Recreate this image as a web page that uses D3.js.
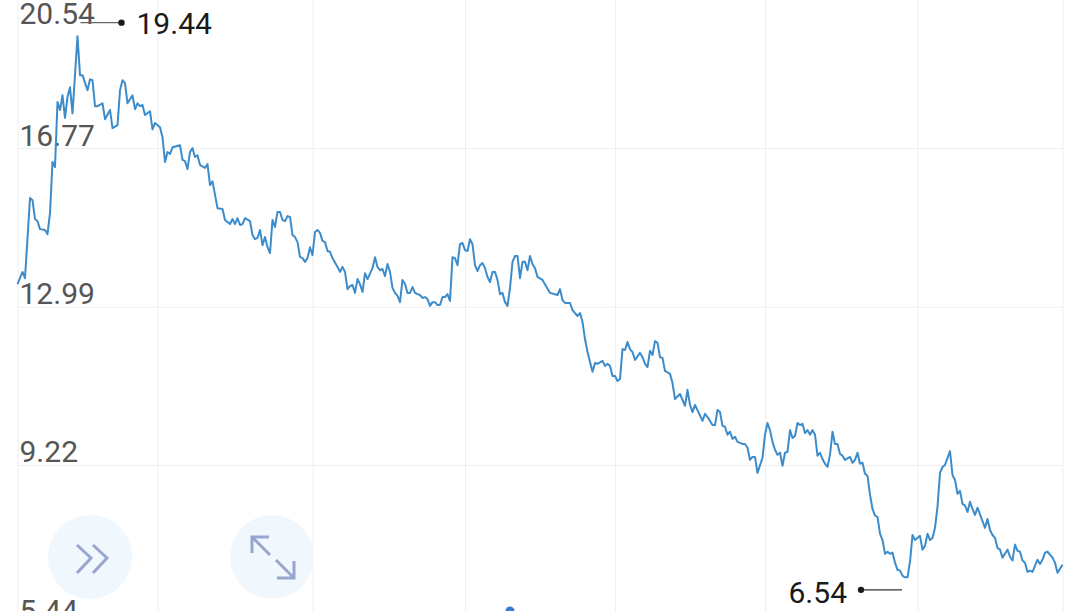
<!DOCTYPE html>
<html>
<head>
<meta charset="utf-8">
<style>
html,body{margin:0;padding:0;background:#fff;overflow:hidden}
svg{display:block}
text{font-family:Roboto,sans-serif}
</style>
<script src="https://cdn.jsdelivr.net/npm/d3@7/dist/d3.min.js"></script>
</head>
<body>
<svg id="chart" width="1080" height="611"></svg>
<script>
const yTicks = [20.54, 16.77, 12.99, 9.22, 5.44];
const gridSessions = [0, 56, 118, 179, 239, 299, 360, 418];
const highValue = 19.44;
const lowValue = 6.54;

const sessions = [
0,2,3,5,6,7,8,9,11,12,13,14,15,16,17,18,19,20,21,22,
24,25,26,28,29,30,31,32,34,35,37,38,40,41,42,43,44,46,47,48,
49,50,51,53,54,55,57,58,59,60,61,62,65,66,67,68,69,70,71,72,
73,75,76,77,78,80,82,83,85,86,87,88,89,90,91,93,94,95,96,97,
98,99,100,101,102,103,104,105,106,107,108,109,110,111,112,113,114,115,116,117,
118,119,120,121,122,123,124,125,126,128,129,130,131,132,133,134,135,136,137,138,
139,140,142,143,144,145,146,147,148,149,150,151,152,153,154,155,156,157,158,159,
160,161,162,163,164,165,166,167,168,169,170,171,172,173,174,175,176,177,178,179,
180,181,182,183,184,185,186,187,188,189,190,191,192,193,194,195,196,197,198,199,
200,201,202,203,204,205,206,207,208,210,213,216,217,218,219,221,222,224,225,226,
227,228,230,231,232,234,235,236,237,238,239,240,241,242,243,244,245,246,247,249,
250,251,252,253,254,255,256,257,258,259,261,262,263,265,267,268,269,270,271,274,
275,276,278,279,280,281,282,283,284,285,286,287,288,290,291,292,293,294,295,296,
298,299,300,301,302,303,304,305,306,307,308,309,310,311,312,313,314,315,316,317,
318,319,320,321,322,323,324,325,326,327,328,329,330,331,333,334,335,336,337,338,
339,340,341,342,343,344,345,346,347,348,349,350,351,352,353,354,355,356,357,358,
359,361,362,363,364,365,366,367,368,369,370,371,373,374,375,376,377,378,379,380,
381,382,383,384,387,388,389,390,391,392,393,394,396,397,398,399,400,401,402,403,
404,405,406,408,409,410,411,412,414,415,416,418
];

const prices = [
13.53,13.82,13.67,15.58,15.53,15.08,15.03,14.84,14.82,14.72,15.22,16.44,16.32,17.87,17.68,18.03,17.49,17.99,18.22,17.60,
19.44,18.51,18.51,18.15,18.41,18.39,17.77,17.77,17.84,17.46,17.68,17.25,17.32,18.15,18.39,18.32,17.84,18.03,17.70,17.84,
17.77,17.80,17.56,17.65,17.22,17.37,17.27,17.03,16.44,16.68,16.63,16.79,16.84,16.49,16.46,16.27,16.68,16.77,16.56,16.60,
16.37,16.30,16.39,15.89,15.98,15.34,15.32,15.06,14.96,15.08,14.96,15.10,14.94,14.96,15.10,15.03,14.70,14.60,14.63,14.82,
14.46,14.65,14.41,14.27,15.06,14.89,15.25,15.25,15.06,15.03,15.15,15.13,14.70,14.65,14.53,14.18,14.15,14.06,14.15,14.41,
14.22,14.77,14.82,14.75,14.56,14.53,14.32,14.30,14.15,13.94,13.82,13.94,13.82,13.41,13.48,13.51,13.32,13.65,13.53,13.34,
13.79,13.65,13.91,14.17,13.94,13.86,13.89,13.72,14.01,13.82,13.44,13.32,13.25,13.10,13.63,13.53,13.32,13.32,13.46,13.32,
13.29,13.27,13.20,13.22,13.17,13.01,13.10,13.10,13.03,13.03,13.22,13.22,13.29,13.13,14.17,14.15,13.98,14.48,14.51,14.34,
14.32,14.60,14.48,13.98,13.84,13.98,14.03,13.91,13.70,13.58,13.82,13.82,13.63,13.29,13.32,13.10,13.01,13.44,14.06,14.20,
14.20,13.67,14.06,14.06,13.86,14.20,14.01,13.91,13.70,13.63,13.32,13.27,13.41,13.15,13.08,13.08,12.91,12.77,12.84,12.63,
12.22,11.91,11.44,11.65,11.63,11.70,11.58,11.63,11.58,11.34,11.34,11.22,11.27,11.98,11.96,12.15,11.98,11.91,11.72,11.89,
11.79,11.63,11.55,11.94,11.84,12.17,12.13,11.79,11.77,11.46,11.39,11.17,10.79,10.91,10.63,11.01,10.65,10.48,10.65,10.27,
10.44,10.36,10.17,10.17,10.53,10.48,10.15,10.13,9.94,10.01,9.84,9.89,9.77,9.72,9.72,9.63,9.34,9.41,9.41,9.03,
9.39,9.94,10.22,10.05,9.77,9.58,9.46,9.51,9.20,9.51,9.53,10.05,9.86,9.91,10.22,10.17,10.20,9.98,10.05,9.94,
10.05,9.94,9.44,9.51,9.36,9.25,9.17,9.46,10.01,9.72,9.72,9.48,9.44,9.34,9.41,9.27,9.34,9.51,9.25,9.27,
9.01,8.96,8.51,8.17,8.01,7.98,7.58,7.43,7.10,7.15,7.10,7.13,6.89,6.72,6.70,6.58,6.54,6.54,6.91,7.55,
7.43,7.53,7.20,7.29,7.58,7.43,7.48,7.72,8.22,9.03,9.17,9.22,9.55,8.98,8.86,8.53,8.60,8.29,8.25,8.10,
8.34,8.17,8.03,8.20,7.72,7.93,7.67,7.55,7.48,7.24,7.20,7.01,7.20,7.03,6.94,7.32,7.17,7.15,6.94,6.89,
6.67,6.70,6.67,6.96,6.86,6.96,7.13,7.15,7.01,6.89,6.65,6.84
];

const series = sessions.map((s, i) => ({ s, p: prices[i] }));

const x = d3.scaleLinear().domain([0, 418]).range([17.5, 1062.5]);
const y = d3.scaleLinear().domain([5.44, 20.54]).range([623.5, -10]);

const svg = d3.select("#chart");

// vertical grid
const gx = svg.append("g")
  .call(d3.axisBottom(x).tickValues(gridSessions).tickSize(611).tickFormat(""));
gx.select(".domain").remove();
gx.selectAll("line").attr("stroke", "#eceef2").attr("stroke-width", 1);

// horizontal grid with labels
const gy = svg.append("g").attr("transform", "translate(17.5,0)")
  .call(d3.axisRight(y).tickValues(yTicks).tickSize(1045).tickFormat(d3.format(".2f")));
gy.select(".domain").remove();
gy.selectAll("line").attr("stroke", "#eceef2").attr("stroke-width", 1);
gy.selectAll("text")
  .attr("x", 2).attr("y", 0)
  // the top label is pinned inside the plot rather than above its off-screen gridline
  .attr("dy", d => d === yTicks[0] ? 33 : -3)
  .attr("text-anchor", "start")
  .attr("fill", "#555").attr("font-size", 30)
  .style("font-family", "Roboto, sans-serif");

// price line
svg.append("path").datum(series)
  .attr("fill", "none").attr("stroke", "#3c8ccb").attr("stroke-width", 2)
  .attr("stroke-linejoin", "round")
  .attr("d", d3.line().x(d => x(d.s)).y(d => y(d.p)));

// high / low callouts
const hi = series.find(d => d.p === highValue);
const lo = series.find(d => d.p === lowValue);
const hiY = y(highValue) - 13.5, loY = y(lowValue) + 12.5;
const hiX = x(hi.s);
const loX = x(lo.s);

svg.append("line").attr("x1", hiX + 3).attr("x2", hiX + 44).attr("y1", hiY).attr("y2", hiY)
  .attr("stroke", "#666").attr("stroke-width", 1.2);
svg.append("circle").attr("cx", hiX + 44).attr("cy", hiY).attr("r", 3.2).attr("fill", "#1a1a1a");
svg.append("text").attr("x", hiX + 59).attr("y", hiY + 11).attr("font-size", 30).attr("fill", "#1a1a1a").text(highValue.toFixed(2));

svg.append("line").attr("x1", loX - 44).attr("x2", loX - 3).attr("y1", loY).attr("y2", loY)
  .attr("stroke", "#333").attr("stroke-width", 1.2);
svg.append("circle").attr("cx", loX - 44).attr("cy", loY).attr("r", 3.2).attr("fill", "#1a1a1a");
svg.append("text").attr("x", loX - 58).attr("y", loY + 13).attr("text-anchor", "end").attr("font-size", 30).attr("fill", "#1a1a1a").text(lowValue.toFixed(2));

// overlay buttons
svg.append("circle").attr("cx", 90).attr("cy", 557).attr("r", 42).attr("fill", "#f0f7fd");
svg.append("circle").attr("cx", 272).attr("cy", 557).attr("r", 42).attr("fill", "#f0f7fd");
const icon = svg.append("g").attr("fill", "none").attr("stroke", "#98a5cf").attr("stroke-width", 3);
icon.append("path").attr("d", "M77,545L91,558L77,573M93,545L107,558L93,573");
icon.append("path").attr("d", "M252,553V537H269M252,537L270,555M277,578H294V561M276,560L294,578");

// cursor marker peeking at the bottom edge
svg.append("circle").attr("cx", 510).attr("cy", 611).attr("r", 4.5).attr("fill", "#3b7bd6");
</script>
</body>
</html>
